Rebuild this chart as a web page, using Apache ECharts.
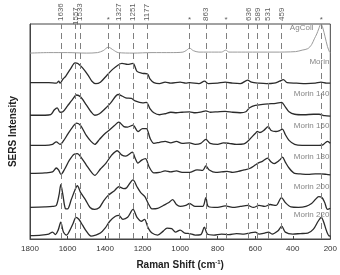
<!DOCTYPE html>
<html>
<head>
<meta charset="utf-8">
<script src="https://cdn.jsdelivr.net/npm/echarts@6/dist/echarts.min.js"></script>
<style>
  html, body { margin: 0; padding: 0; background: #fff; }
  #main { width: 340px; height: 275px; }
</style>
</head>
<body>
<div id="main"></div>
<script>
// SERS spectra, [Raman shift (cm-1), intensity incl. stacking offset]
const names = ['AgColl', 'Morin', 'Morin 140', 'Morin 160', 'Morin 180', 'Morin 200', 'Morin 220'];

const agcoll = [[1800,188.5],[1700,189],[1600,189],[1500,188.5],[1440,189],[1410,191],[1383,194.5],[1355,191.5],[1330,189],[1250,188.5],[1150,189],[1050,189],[985,189.5],[965,191.5],[950,193.5],[930,191],[900,189.5],[850,189.5],[780,189.5],[757,191.5],[740,189.5],[650,189.5],[500,189.5],[385,190],[350,191.5],[320,193],[300,197],[285,203],[272,208],[262,213],[250,218],[240,214],[228,205],[215,195],[205,190],[200,189]];

const morin = [[1800,158.5],[1700,158.5],[1660,158],[1647,160],[1640,158],[1625,162],[1610,165],[1584,172.5],[1560,178.5],[1545,178],[1520,173.5],[1490,166],[1470,160],[1450,157.5],[1425,159],[1390,166],[1360,172],[1330,176.5],[1310,178],[1280,177],[1251,178],[1230,170],[1200,168],[1175,167.5],[1160,162],[1140,158.5],[1110,157.5],[1080,159],[1050,158],[1000,159],[970,158],[950,158.5],[900,157.5],[870,160],[850,157.5],[800,158],[760,159],[720,158],[680,157.5],[640,161],[620,159],[580,158],[540,157.5],[500,158],[470,160],[450,161.5],[430,158.5],[380,158],[330,157.5],[280,158],[250,159],[220,158],[200,158]];

const morin140 = [[1800,125.5],[1720,125.5],[1690,126],[1670,131],[1655,133],[1640,128.5],[1625,129],[1600,135],[1575,141],[1552,146],[1530,144],[1500,136],[1475,129],[1455,125.5],[1430,127],[1400,132],[1370,138],[1330,146.5],[1310,145],[1290,143],[1260,142.5],[1240,140],[1200,138],[1180,138.5],[1160,132],[1140,128],[1110,126],[1080,127],[1050,128.5],[1020,128],[990,128.5],[950,129],[920,128],[885,129],[863,130],[840,128.5],[800,129],[760,129.5],[720,128.5],[680,128],[650,129],[630,133],[600,135.5],[560,136.5],[530,137],[490,137.5],[460,138.5],[440,134],[420,129],[390,126.5],[340,126],[290,126.5],[260,126.5],[230,125],[200,124.5]];

const morin160 = [[1800,95],[1720,95],[1680,96],[1660,98.5],[1640,96],[1620,100],[1600,106],[1575,113],[1552,117.5],[1530,115],[1500,105],[1475,99],[1455,96],[1430,101],[1400,107],[1380,110],[1350,115],[1327,118.5],[1300,114],[1280,113.5],[1251,115.5],[1225,109],[1200,112],[1180,112],[1160,102],[1140,97],[1110,98],[1080,99],[1050,97.5],[1020,99],[990,97],[950,97.5],[920,96],[890,97],[863,101],[840,97],[800,96],[770,97.5],[740,97],[700,96],[660,96.5],[640,99],[620,103],[600,107],[589,109],[575,108],[555,110],[531,114],[515,110],[490,109],[470,110],[455,111.5],[440,106],[420,100],[390,96],[350,95],[300,95],[260,95],[240,95.5],[215,99],[200,97]];

const morin180 = [[1800,66.5],[1720,67],[1680,68],[1660,72],[1648,70],[1635,65.5],[1615,71],[1590,80],[1565,86],[1548,86.5],[1525,82],[1500,75],[1470,67],[1455,64.5],[1425,71],[1395,77],[1365,85],[1335,89.5],[1310,85],[1290,84],[1255,88],[1240,82],[1225,77],[1205,80],[1185,81.5],[1165,73],[1140,67],[1110,67.5],[1080,69],[1050,68],[1020,69],[990,67.5],[950,67.5],[910,70],[880,69.5],[863,74],[845,70],[810,67.5],[780,68],[750,68.5],[720,67.5],[690,68.5],[660,70],[630,71.5],[600,75],[585,77],[560,79],[535,82],[515,78],[500,76.5],[470,80],[455,83],[440,78],[420,72],[390,66.5],[360,66],[320,65.5],[280,66],[250,66],[220,65.5],[200,65]];

const morin200 = [[1800,32],[1720,32.5],[1680,33],[1660,34],[1645,45],[1636,55],[1625,45],[1612,31],[1600,30.5],[1580,40],[1560,50],[1548,54],[1530,47],[1505,40],[1480,32],[1455,30],[1430,32],[1410,38],[1385,44],[1350,49],[1327,53],[1300,51],[1285,52],[1251,60],[1230,53],[1210,47],[1188,43],[1170,36],[1150,30.5],[1120,31],[1090,34],[1060,37],[1040,40],[1020,35],[1000,33],[970,34],[950,36],[920,33],[880,33],[863,42],[850,33],[800,32],[760,33.5],[720,32],[680,33],[640,34],[610,32],[580,34],[550,33],[520,35],[490,34],[460,42],[440,37],[410,32.5],[370,32],[330,33],[300,36],[280,40],[262,43],[245,42],[230,37],[215,30],[200,31]];

const morin220 = [[1800,3.5],[1740,4],[1700,5],[1680,7],[1665,4.5],[1650,9],[1636,17],[1622,7],[1605,4],[1590,8],[1570,16],[1555,22],[1540,20],[1520,14],[1500,8],[1475,3],[1450,4],[1425,6],[1400,11],[1375,18],[1345,23],[1327,24],[1305,20],[1280,22],[1251,30],[1230,22],[1205,18],[1190,20],[1170,11],[1150,6],[1120,4],[1090,8],[1070,11],[1045,10.5],[1025,7],[1000,9],[975,6],[950,5.5],[920,4],[890,4.5],[871,12],[855,5],[820,4],[780,5],[740,4.5],[700,5.5],[660,5],[630,6],[600,7],[580,5],[550,6],[530,7],[510,5],[480,8],[459,13],[440,7],[400,5],[360,5.5],[320,6],[290,10],[265,18],[248,22],[235,17],[220,8],[205,3],[200,3.5]];

// right-hand trace labels: shift where the text ends, intensity level
const labelShift = [290, 205, 205, 205, 205, 205, 205];
const labelLevel = [214, 180, 147, 115, 83, 53, 25];

// band positions marked on top
const peakShift = [1636, 1557, 1533, 1327, 1251, 1177, 863, 636, 589, 531, 459];
const starShift = [1383, 950, 755, 248];

const fontFam = '"Liberation Sans", Arial, sans-serif';
const spectra = [agcoll, morin, morin140, morin160, morin180, morin200, morin220];

const chart = echarts.init(document.getElementById('main'));

const series = spectra.map((d, i) => ({
  name: names[i],
  type: 'line',
  data: d,
  symbol: 'none',
  smooth: 0.3,
  z: 3,
  lineStyle: { color: i === 0 ? '#9a9a9a' : '#2b2b2b', width: i === 0 ? 1 : 1.3 }
}));

// dashed band markers
series.push({
  type: 'line',
  data: [],
  markLine: {
    silent: true,
    symbol: 'none',
    label: { show: false },
    lineStyle: { color: '#808080', type: [6, 4], width: 1 },
    data: peakShift.concat(starShift).map(v => ({ xAxis: v }))
  }
});

// numbers above the frame
series.push({
  type: 'scatter',
  symbolSize: 0,
  data: peakShift.map(v => [v, 218]),
  label: {
    show: true,
    position: 'top',
    distance: 3,
    rotate: 90,
    align: 'left',
    verticalAlign: 'middle',
    formatter: p => p.value[0],
    fontSize: 8,
    color: '#333',
    fontFamily: fontFam
  },
  labelLayout: p => p.dataIndex === 1 ? { dx: -4 } : {}
});

// asterisks
series.push({
  type: 'scatter',
  symbolSize: 0,
  data: starShift.map(v => [v, 218]),
  label: {
    show: true,
    position: 'top',
    distance: 0,
    formatter: '*',
    fontSize: 8,
    color: '#333',
    fontFamily: fontFam
  }
});

// trace names
series.push({
  type: 'scatter',
  symbolSize: 0,
  data: names.map((n, i) => [labelShift[i], labelLevel[i]]),
  label: {
    show: true,
    position: 'left',
    distance: 0,
    formatter: p => names[p.dataIndex],
    fontSize: 8,
    color: '#666',
    fontFamily: fontFam
  }
});

chart.setOption({
  animation: false,
  grid: { left: 29, right: 8, top: 24, bottom: 33, show: true, borderColor: '#444', borderWidth: 1 },
  xAxis: {
    type: 'value',
    inverse: true,
    min: 200,
    max: 1800,
    interval: 200,
    name: 'Raman Shift (cm{sup|-1})',
    nameLocation: 'middle',
    nameGap: 20,
    nameTextStyle: {
      fontSize: 10, fontWeight: 'bold', color: '#222', fontFamily: fontFam,
      rich: { sup: { fontSize: 6, fontWeight: 'bold', color: '#222', verticalAlign: 'top', padding: [0, 0, 6, 0] } }
    },
    axisLine: { lineStyle: { color: '#444' } },
    axisTick: { inside: true, length: 3, lineStyle: { color: '#444' } },
    axisLabel: { fontSize: 8, color: '#333', margin: 6, fontFamily: fontFam, formatter: v => String(v) },
    splitLine: { show: false }
  },
  yAxis: {
    type: 'value',
    min: 0,
    max: 218,
    name: 'SERS Intensity',
    nameLocation: 'middle',
    nameGap: 12,
    nameTextStyle: { fontSize: 10, fontWeight: 'bold', color: '#222', fontFamily: fontFam },
    axisLine: { show: true, lineStyle: { color: '#444' } },
    axisTick: { show: false },
    axisLabel: { show: false },
    splitLine: { show: false }
  },
  series: series
});
</script>
</body>
</html>
